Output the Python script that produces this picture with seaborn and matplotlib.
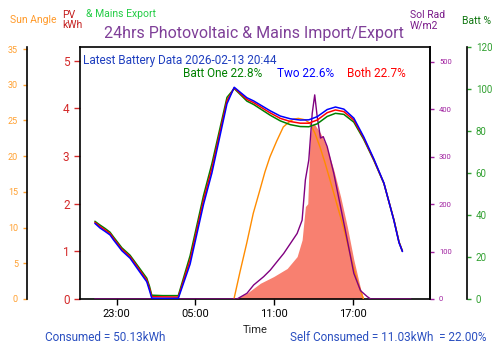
import numpy as np
import pandas as pd
import matplotlib
matplotlib.use("Agg")
import matplotlib.pyplot as plt
import matplotlib.dates as mdates
import seaborn as sns

sns.set_style("white")
plt.rcParams['font.family'] = ['Roboto', 'DejaVu Sans']

BASE = pd.Timestamp("2026-02-12 00:00")

# Battery state of charge (%) - hours since 2026-02-12 00:00
batt_hours = [21.34, 21.73, 22.11, 22.49, 22.75, 23.39, 24.02, 24.65, 25.29, 25.50, 25.67,
              26.50, 27.69, 28.59, 29.61, 30.25, 31.40, 31.95, 32.92, 33.43, 34.69, 35.46,
              36.22, 36.98, 37.63, 38.27, 39.03, 39.66, 40.30, 41.06, 41.82, 42.59, 43.35,
              44.11, 44.50, 44.76]
batt_both = [36.5, 34.5, 32.9, 31.2, 28.9, 23.7, 20.1, 14.6, 9.0, 5.0, 1.1,
             1.0, 0.9, 18.6, 47.1, 62.2, 94.5, 100.5, 95.0, 93.5, 88.6, 86.0,
             84.5, 83.7, 83.7, 85.2, 88.7, 90.0, 89.2, 85.2, 76.5, 66.2, 55.1,
             37.6, 27.0, 22.7]
batt_one = [37.0, 35.2, 33.6, 31.8, 29.6, 24.4, 20.8, 15.4, 9.9, 6.0, 1.8,
            1.6, 1.6, 20.6, 49.2, 64.4, 96.0, 100.2, 94.2, 92.6, 87.5, 84.8,
            83.0, 82.1, 82.0, 83.4, 86.9, 88.4, 87.9, 84.2, 75.9, 65.9, 55.0,
            37.7, 27.2, 22.8]
batt_two = [36.0, 33.8, 32.2, 30.5, 28.2, 23.0, 19.4, 13.8, 8.2, 4.0, 0.4,
            0.3, 0.3, 16.6, 45.0, 60.0, 93.0, 100.8, 95.8, 94.3, 89.6, 87.1,
            85.8, 85.2, 85.3, 86.8, 90.2, 91.4, 90.4, 86.1, 77.1, 66.6, 55.2,
            37.4, 26.8, 22.6]

# Solar radiation (W/m2)
sol_hours = [21.33, 32.16, 32.92, 33.43, 34.19, 34.70, 35.21, 35.72, 36.23, 36.74, 37.12,
             37.37, 37.63, 37.89, 38.08, 38.27, 38.52, 38.73, 39.03, 39.53, 40.05, 40.56,
             41.06, 41.57, 42.08, 42.34, 45.40]
sol_rad = [0, 0, 12, 29.5, 47, 61, 78.6, 96, 117, 138, 166,
           251, 293, 391, 430, 384, 339, 342, 321, 265, 194, 124,
           54, 17.5, 5, 0, 0]

# PV generation (kWh)
pv_hours = [32.03, 32.92, 33.94, 34.95, 35.98, 36.74, 37.12, 37.37, 37.55, 37.70, 37.81,
            38.01, 38.52, 39.03, 39.53, 40.05, 40.56, 41.06, 41.57, 41.82]
pv_kwh = [0, 0.12, 0.33, 0.47, 0.64, 0.89, 1.24, 1.94, 2.0, 3.2, 3.62,
          3.69, 3.48, 3.17, 2.71, 2.15, 1.52, 0.82, 0.22, 0]

# Sun elevation angle (degrees)
sun_hours = [31.93, 32.39, 32.90, 33.40, 33.91, 34.29, 34.67, 35.18, 35.69, 36.20, 36.50,
             36.83, 37.34, 37.72, 38.10, 38.48, 38.86, 39.24, 39.75, 40.26, 40.64, 41.02,
             41.38, 41.79]
sun_angle = [0, 3.8, 7.8, 12.0, 15.3, 17.8, 19.9, 22.1, 24.1, 24.9, 25.2,
             25.3, 25.1, 24.6, 23.2, 21.3, 19.1, 16.7, 13.4, 10.1, 7.3, 4.5,
             2.2, 0]

def to_dt(h):
    return BASE + pd.to_timedelta(np.array(h), unit="h")

fig = plt.figure(figsize=(5.0, 3.53), dpi=100)
ax = fig.add_axes([0.16, 0.153, 0.70, 0.714])

# PV fill on main axis
ax.fill_between(to_dt(pv_hours), 0, pv_kwh, color="#f88070", linewidth=0)
ax.set_ylim(0, 5.29)
ax.set_yticks([0, 1, 2, 3, 4, 5])
ax.tick_params(axis="y", colors="#d42a2a", labelsize=8.5, length=4, width=1, direction="out", left=True)
ax.tick_params(axis="x", colors="black", labelsize=8, length=4, width=1, direction="out", bottom=True)
for s in ax.spines.values():
    s.set_color("black")
    s.set_linewidth(1.2)

# Sun angle axis (far left)
ax_sun = ax.twinx()
ax_sun.yaxis.set_label_position("left")
ax_sun.yaxis.tick_left()
ax_sun.spines["left"].set_position(("axes", -0.151))
ax_sun.spines["left"].set_visible(True)
ax_sun.spines["right"].set_visible(False)
ax_sun.spines["top"].set_visible(False)
ax_sun.spines["bottom"].set_visible(False)
sns.lineplot(x=to_dt(sun_hours), y=sun_angle, ax=ax_sun, color="#ff8c00", linewidth=1.0)
ax_sun.set_ylim(0, 35.3)
ax_sun.set_yticks(range(0, 36, 5))
ax_sun.tick_params(axis="y", colors="#ffa030", labelsize=6.5, length=3, width=1, left=True)
ax_sun.spines["left"].set_color("black")
ax_sun.spines["left"].set_linewidth(1.2)

# Solar radiation axis (right of plot)
ax_sol = ax.twinx()
sns.lineplot(x=to_dt(sol_hours), y=sol_rad, ax=ax_sol, color="#800080", linewidth=1.0)
ax_sol.set_ylim(0, 531)
ax_sol.set_yticks([0, 100, 200, 300, 400, 500])
ax_sol.tick_params(axis="y", colors="#a020a0", labelsize=5.5, length=3, width=1, right=True)
for k in ["left", "top", "bottom"]:
    ax_sol.spines[k].set_visible(False)
ax_sol.spines["right"].set_color("black")
ax_sol.spines["right"].set_linewidth(1.2)

# Battery axis (far right)
ax_bat = ax.twinx()
ax_bat.spines["right"].set_position(("axes", 1.105))
for k in ["left", "top", "bottom"]:
    ax_bat.spines[k].set_visible(False)
sns.lineplot(x=to_dt(batt_hours), y=batt_one, ax=ax_bat, color="green", linewidth=1.1)
sns.lineplot(x=to_dt(batt_hours), y=batt_both, ax=ax_bat, color="red", linewidth=1.1)
sns.lineplot(x=to_dt(batt_hours), y=batt_two, ax=ax_bat, color="blue", linewidth=1.1)
ax_bat.set_ylim(0, 120)
ax_bat.set_yticks(range(0, 121, 20))
ax_bat.tick_params(axis="y", colors="#30a030", labelsize=7, length=3, width=1, right=True)
ax_bat.spines["right"].set_color("black")
ax_bat.spines["right"].set_linewidth(1.2)

for a in (ax_sun, ax_sol, ax_bat):
    a.set_ylabel("")
    a.set_xlabel("")

ax.set_xlim(to_dt([20.205])[0], to_dt([46.86])[0])
ax.xaxis.set_major_locator(mdates.HourLocator(byhour=[5, 11, 17, 23]))
ax.xaxis.set_major_formatter(mdates.DateFormatter("%H:%M"))
ax.set_xlabel("Time", fontsize=8, labelpad=4)

# Titles and labels
fig.text(0.507, 0.906, "24hrs Photovoltaic & Mains Import/Export", ha="center", va="center",
         fontsize=11.5, color="#7f3f98")
fig.text(0.066, 0.943, "Sun Angle", ha="center", va="center", fontsize=7.5, color="#ff9a2a")
fig.text(0.124, 0.943, "PV\nkWh", ha="left", va="center", fontsize=7.5, color="#c41e1e", linespacing=1.0)
fig.text(0.172, 0.96, "& Mains Export", ha="left", va="center", fontsize=7.5, color="#22cc44")
fig.text(0.82, 0.943, "Sol Rad\nW/m2", ha="left", va="center", fontsize=7.5, color="#7a1a8a", linespacing=1.0)
fig.text(0.953, 0.94, "Batt %", ha="center", va="center", fontsize=7.5, color="#117711")

ax.text(0.008, 0.945, "Latest Battery Data 2026-02-13 20:44", transform=ax.transAxes,
        fontsize=8.5, color="#1f3fbf", ha="left", va="center")
ax.text(0.294, 0.895, "Batt One 22.8%", transform=ax.transAxes, fontsize=8.5, color="green", ha="left", va="center")
ax.text(0.563, 0.895, "Two 22.6%", transform=ax.transAxes, fontsize=8.5, color="blue", ha="left", va="center")
ax.text(0.763, 0.895, "Both 22.7%", transform=ax.transAxes, fontsize=8.5, color="red", ha="left", va="center")

fig.text(0.21, 0.045, "Consumed = 50.13kWh", ha="center", va="center", fontsize=8.5, color="#2a4fc0")
fig.text(0.776, 0.045, "Self Consumed = 11.03kWh  = 22.00%", ha="center", va="center", fontsize=8.5, color="#2a4fc0")

fig.savefig("out.png", dpi=100)
